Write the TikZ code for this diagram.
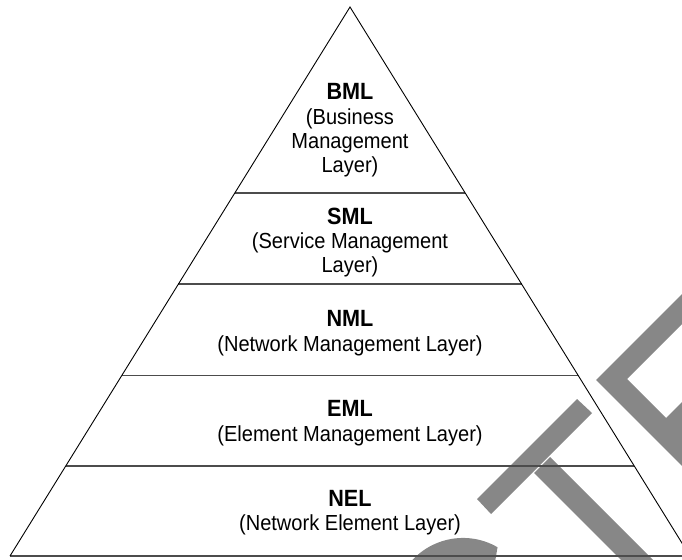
\documentclass[tikz,border=0pt]{standalone}
\usepackage{fontspec}
\setmainfont{Liberation Sans}[FakeStretch=0.92]
\usetikzlibrary{calc}
\newcommand{\layertitle}[1]{{\fontsize{23.5}{24.4}\selectfont\bfseries #1}}
\begin{document}
\begin{tikzpicture}[x=1pt,y=-1pt,
  edge/.style={draw=black,line width=0.9pt,line join=miter},
  divider/.style={draw=black!70,line width=1.4pt},
  greyshape/.style={fill=black!47,draw=none},
  layertext/.style={align=center,inner sep=0pt,font=\fontsize{21.8}{24.4}\selectfont}]
\useasboundingbox (0,0) rectangle (682,559);
% grey marks
\begin{scope}
\clip (0,0) rectangle (682,559);
\fill[greyshape] (477,499) -- (577,399) -- (592,413) -- (491,514) -- cycle;
\fill[greyshape] (534,473) -- (550,457) -- (680,587) -- (664,603) -- cycle;
\fill[greyshape] (596,380) -- (700,276) -- (700,306) -- (627,379) -- (666,418) -- (700,384) -- (700,484) -- cycle;
\fill[greyshape] (497.5,547.2) arc[start angle=-60,end angle=-150,radius=69] -- (422.3,630.5) arc[start angle=-150,end angle=-60,radius=47] -- cycle;
\end{scope}
% pyramid
\coordinate (apex) at (350,7);
\coordinate (bl) at (10,556);
\coordinate (br) at (690,556);
\coordinate (l1) at ($(apex)!0.3388!(bl)$);
\coordinate (r1) at ($(apex)!0.3388!(br)$);
\coordinate (l2) at ($(apex)!0.5046!(bl)$);
\coordinate (r2) at ($(apex)!0.5046!(br)$);
\coordinate (l3) at ($(apex)!0.6712!(bl)$);
\coordinate (r3) at ($(apex)!0.6712!(br)$);
\coordinate (l4) at ($(apex)!0.8361!(bl)$);
\coordinate (r4) at ($(apex)!0.8361!(br)$);
\draw[divider] (l1) -- (r1);
\draw[divider] (l2) -- (r2);
\draw[divider] (l3) -- (r3);
\draw[divider] (l4) -- (r4);
\draw[divider] (bl) -- (br);
\draw[edge] (bl) -- (apex) -- (br);
% texts
\node[layertext] (bml) at (350,130.5) {\layertitle{BML}\\(Business\\Management\\Layer)};
\node[layertext] (sml) at (350,242.5) {\layertitle{SML}\\(Service Management\\Layer)};
\node[layertext] (nml) at (350,333) {\layertitle{NML}\\(Network Management Layer)};
\node[layertext] (eml) at (350,423) {\layertitle{EML}\\(Element Management Layer)};
\node[layertext] (nel) at (350,512.5) {\layertitle{NEL}\\(Network Element Layer)};
\end{tikzpicture}
\end{document}
